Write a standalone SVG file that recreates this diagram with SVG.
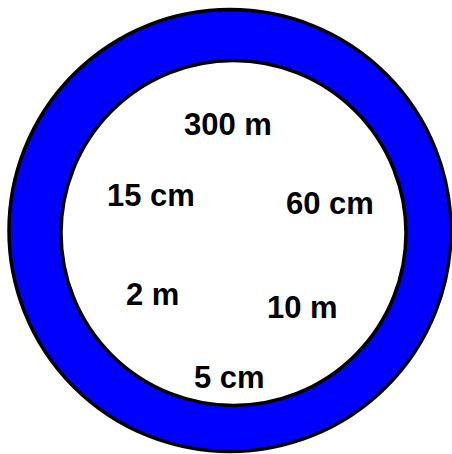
<svg xmlns="http://www.w3.org/2000/svg" width="452" height="454" viewBox="0 0 452 454">
<style>
.lbl{font-family:"Liberation Sans",Arial,sans-serif;font-weight:bold;font-size:31px;fill:#000}
</style>
<rect width="452" height="454" fill="#fff"/>
<g id="ring">
<circle cx="230" cy="230.5" r="221" fill="#0000ff" stroke="#000" stroke-width="3.5"/>
<circle cx="233.5" cy="233" r="172.5" fill="#fff" stroke="#000" stroke-width="3.5"/>
</g>
<g id="labels">
<text class="lbl" x="184" y="135">300 m</text>
<text class="lbl" x="107" y="206">15 cm</text>
<text class="lbl" x="286" y="214">60 cm</text>
<text class="lbl" x="126" y="305">2 m</text>
<text class="lbl" x="267" y="318">10 m</text>
<text class="lbl" x="194" y="388">5 cm</text>
</g>
</svg>
